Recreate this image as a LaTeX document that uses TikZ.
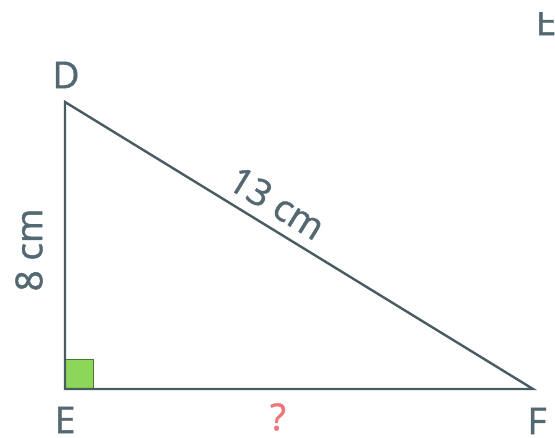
\documentclass[tikz,border=0pt]{standalone}
\usepackage{fontspec}
\setsansfont{Open Sans}[FakeBold=1.2]
\usetikzlibrary{positioning}
\definecolor{edgegray}{RGB}{72,92,98}
\definecolor{labelgray}{RGB}{84,104,114}
\definecolor{anglegreen}{RGB}{140,215,90}
\definecolor{askred}{RGB}{238,118,120}

\begin{document}
\begin{tikzpicture}[
  x=1pt, y=-1pt,
  font=\sffamily\fontsize{37}{40}\selectfont,
  side/.style={line width=2.4pt, edgegray, line join=miter},
  vertex/.style={text=labelgray, inner sep=0pt},
  measure/.style={text=labelgray, inner sep=0pt},
  rightangle/.style={fill=anglegreen, draw=anglegreen!55!black, line width=0.8pt},
]
  \useasboundingbox (0,0) rectangle (555,438);

  \coordinate (D) at (65,102);
  \coordinate (E) at (65,389);
  \coordinate (F) at (533,389);

  \draw[rightangle] (E) rectangle ++(28,-30);
  \draw[side] (D) -- (E) -- (F) -- cycle;

  \node[vertex] (labD) at (66,75) {D};
  \node[vertex] (labE) at (65,420) {E};
  \node[vertex] (labF) at (537,421) {F};

  \node[measure, rotate=90] (dside) at (29,250) {8 cm};
  \node[measure, rotate=-31.43] (hyp) at (277,203) {13 cm};
  \node[measure, text=askred] (ask) at (278,417) {?};

  % cut-off letter at the top edge
  \begin{scope}
    \clip (520,13) rectangle (555,40);
    \node[vertex] (cut) at (546,22) {E};
  \end{scope}
\end{tikzpicture}
\end{document}
